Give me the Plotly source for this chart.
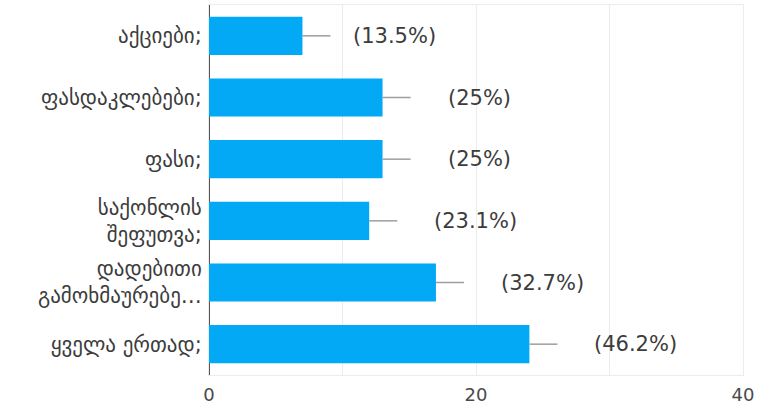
import plotly.graph_objects as go

categories = [
    "აქციები;",
    "ფასდაკლებები;",
    "ფასი;",
    "საქონლის<br>შეფუთვა;",
    "დადებითი<br>გამოხმაურებე…",
    "ყველა ერთად;",
]
counts = [7, 13, 13, 12, 17, 24]
percents = ["(13.5%)", "(25%)", "(25%)", "(23.1%)", "(32.7%)", "(46.2%)"]
tick_vals = [0, 10, 20, 30, 40]
tick_text = ["0", "", "20", "", "40"]

blue = "#03a9f4"
font = "DejaVu Sans"

fig = go.Figure()
fig.add_trace(go.Bar(
    x=counts,
    y=categories,
    orientation="h",
    width=0.62,
    marker=dict(color=blue, line=dict(width=0)),
    error_x=dict(type="data", symmetric=False, array=[2.1] * len(counts),
                 arrayminus=[0] * len(counts), color="#9e9e9e",
                 thickness=1.5, width=0),
    hoverinfo="skip",
))

# percentage labels to the right of the leader lines
for i, (c, cat, p) in enumerate(zip(counts, categories, percents)):
    fig.add_annotation(
        x=c, y=cat, text=p, showarrow=False, xanchor="left",
        xshift=49 if i == 0 else 63,
        font=dict(family=font, size=21, color="#3c3c3c"),
    )

fig.update_layout(
    width=758, height=407,
    margin=dict(l=209, r=15, t=5, b=32),
    paper_bgcolor="white", plot_bgcolor="white",
    showlegend=False,
    font=dict(family=font, size=18, color="#3c3c3c"),
)
fig.update_xaxes(
    range=[0, 40], tickvals=tick_vals, ticktext=tick_text,
    showgrid=True, gridcolor="#ececec", gridwidth=1,
    zeroline=True, zerolinecolor="#555555", zerolinewidth=2,
    showline=True, linecolor="#ececec", linewidth=1, mirror=True,
    ticks="outside", ticklen=3, tickcolor="rgba(0,0,0,0)",
    tickfont=dict(family=font, size=18, color="#4a4a4a"),
    automargin=False, fixedrange=True,
)
fig.update_yaxes(
    categoryorder="array", categoryarray=categories[::-1],
    showgrid=False,
    showline=True, linecolor="#ececec", linewidth=1, mirror=True,
    ticks="outside", ticklen=2, tickcolor="rgba(0,0,0,0)",
    tickfont=dict(family=font, size=21, color="#3c3c3c"),
    automargin=False, fixedrange=True,
)

# page body has a default 8px margin; drop it so the chart sits at the corner
fig.write_html("out.html", config={"displayModeBar": False},
               post_script="document.body.style.margin='0';")
